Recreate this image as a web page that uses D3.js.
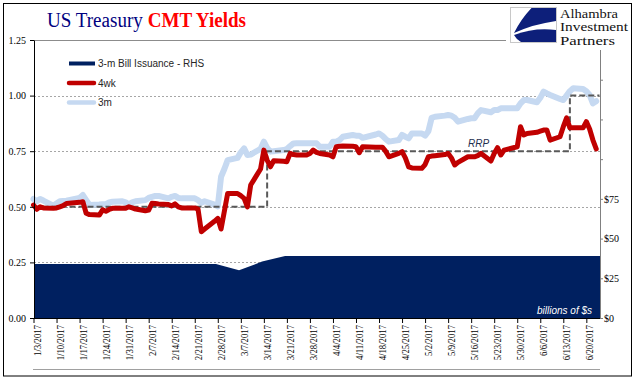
<!DOCTYPE html>
<html><head><meta charset="utf-8">
<script src="https://cdn.jsdelivr.net/npm/d3@7"></script>
<style>body{margin:0;background:#fff}svg{display:block}</style>
</head><body>
<svg id="c" width="641" height="381"></svg>
<script>
// ---------- DATA ----------
const dates = [
 "2017-01-03","2017-01-04","2017-01-05","2017-01-06","2017-01-09","2017-01-10","2017-01-11","2017-01-12","2017-01-13","2017-01-17","2017-01-18","2017-01-19","2017-01-20","2017-01-23","2017-01-24","2017-01-25","2017-01-26","2017-01-27","2017-01-30","2017-01-31",
 "2017-02-01","2017-02-02","2017-02-03","2017-02-06","2017-02-07","2017-02-08","2017-02-09","2017-02-10","2017-02-13","2017-02-14","2017-02-15","2017-02-16","2017-02-17","2017-02-21","2017-02-22","2017-02-23","2017-02-24","2017-02-27","2017-02-28",
 "2017-03-01","2017-03-02","2017-03-03","2017-03-06","2017-03-07","2017-03-08","2017-03-09","2017-03-10","2017-03-13","2017-03-14","2017-03-15","2017-03-16","2017-03-17","2017-03-20","2017-03-21","2017-03-22","2017-03-23","2017-03-24","2017-03-27","2017-03-28","2017-03-29","2017-03-30","2017-03-31",
 "2017-04-03","2017-04-04","2017-04-05","2017-04-06","2017-04-07","2017-04-10","2017-04-11","2017-04-12","2017-04-13","2017-04-17","2017-04-18","2017-04-19","2017-04-20","2017-04-21","2017-04-24","2017-04-25","2017-04-26","2017-04-27","2017-04-28",
 "2017-05-01","2017-05-02","2017-05-03","2017-05-04","2017-05-05","2017-05-08","2017-05-09","2017-05-10","2017-05-11","2017-05-12","2017-05-15","2017-05-16","2017-05-17","2017-05-18","2017-05-19","2017-05-22","2017-05-23","2017-05-24","2017-05-25","2017-05-26","2017-05-30","2017-05-31",
 "2017-06-01","2017-06-02","2017-06-05","2017-06-06","2017-06-07","2017-06-08","2017-06-09","2017-06-12","2017-06-13","2017-06-14","2017-06-15","2017-06-16","2017-06-19","2017-06-20","2017-06-21","2017-06-22","2017-06-23"
];
const threeMonth = [
 0.535,0.525,0.535,0.528,0.505,0.515,0.525,0.526,0.527,0.540,0.553,0.530,0.508,0.510,0.512,0.512,0.520,0.523,0.525,0.520,
 0.510,0.520,0.525,0.530,0.540,0.545,0.549,0.549,0.538,0.545,0.549,0.540,0.538,0.538,0.530,0.518,0.525,0.510,0.502,
 0.635,0.670,0.710,0.720,0.745,0.763,0.733,0.735,0.760,0.793,0.765,0.748,0.750,0.755,0.760,0.773,0.785,0.786,0.786,0.786,0.786,0.786,0.770,
 0.770,0.793,0.793,0.800,0.815,0.823,0.820,0.820,0.810,0.825,0.830,0.820,0.805,0.793,0.800,0.823,0.815,0.808,0.830,
 0.830,0.820,0.840,0.900,0.905,0.910,0.913,0.910,0.900,0.883,0.895,0.898,0.898,0.920,0.935,0.925,0.935,0.935,0.943,0.943,0.943,0.965,
 0.980,0.980,0.970,0.990,1.018,1.010,1.003,0.985,0.980,1.000,1.020,1.033,1.030,1.020,1.003,0.965,0.975
];
const fourWeek = [
 0.508,0.489,0.500,0.495,0.493,0.495,0.500,0.505,0.515,0.520,0.523,0.471,0.465,0.463,0.486,0.480,0.488,0.493,0.493,0.493,
 0.500,0.495,0.490,0.482,0.485,0.516,0.515,0.513,0.510,0.504,0.513,0.500,0.495,0.495,0.490,0.388,0.400,0.435,0.448,
 0.400,0.480,0.560,0.560,0.550,0.538,0.500,0.598,0.670,0.755,0.710,0.680,0.707,0.705,0.703,0.740,0.735,0.733,0.733,0.740,0.755,0.745,0.740,
 0.733,0.725,0.770,0.772,0.773,0.772,0.770,0.743,0.770,0.768,0.768,0.768,0.750,0.725,0.740,0.748,0.720,0.680,0.675,
 0.673,0.690,0.725,0.728,0.730,0.735,0.740,0.720,0.688,0.700,0.725,0.725,0.725,0.730,0.740,0.706,0.740,0.766,0.733,0.755,0.770,0.860,
 0.823,0.830,0.835,0.840,0.845,0.845,0.800,0.815,0.860,0.900,0.855,0.855,0.855,0.883,0.850,0.800,0.760
];
const issuanceDates = ["2017-01-03","2017-01-09","2017-01-16","2017-01-23","2017-01-30","2017-02-06","2017-02-13","2017-02-20","2017-02-27","2017-03-06","2017-03-13","2017-03-20","2017-03-27","2017-04-03","2017-04-10","2017-04-17","2017-04-24","2017-05-01","2017-05-08","2017-05-15","2017-05-22","2017-05-29","2017-06-05","2017-06-12","2017-06-19","2017-06-24"];
const issuance = [34,34,34,34,34,34,34,34,34,30,35.5,39,39,39,39,39,39,39,39,39,39,39,39,39,39,39];
const rrpDates = ["2017-01-03","2017-03-15","2017-06-15","2017-06-24"];
const rrp = [0.50,0.75,1.00,1.00];
const xTickDates = ["2017-01-03","2017-01-10","2017-01-17","2017-01-24","2017-01-31","2017-02-07","2017-02-14","2017-02-21","2017-02-28","2017-03-07","2017-03-14","2017-03-21","2017-03-28","2017-04-04","2017-04-11","2017-04-18","2017-04-25","2017-05-02","2017-05-09","2017-05-16","2017-05-23","2017-05-30","2017-06-06","2017-06-13","2017-06-20"];
const leftTicks = [0,0.25,0.5,0.75,1.0,1.25];
const rightTicks = [0,25,50,75,100,125,150,175];
const rightTickLabels = ["$0","$25","$50","$75","","","",""];
const legendLabels = ["3-m Bill Issuance - RHS","4wk","3m"];

// ---------- CHART ----------
const parse = d3.timeParse("%Y-%m-%d");
const svg = d3.select("#c");
const x = d3.scaleTime().domain([parse("2017-01-03"), parse("2017-06-24")]).range([33.5, 599.5]);
const y = d3.scaleLinear().domain([0, 1.25]).range([318, 40]);
const y2 = d3.scaleLinear().domain([0, 175]).range([318, 40]);
const serif = "'Liberation Serif','Times New Roman',serif";
const sans = "'Liberation Sans',Arial,sans-serif";

svg.append("rect").attr("width",641).attr("height",381).attr("fill","#fff");

// gridlines
[0.25,0.5,0.75,1.0].forEach(v=>{
  svg.append("line").attr("x1",34).attr("x2",600).attr("y1",Math.round(y(v))+0.5).attr("y2",Math.round(y(v))+0.5)
    .attr("stroke","#a6a6a6").attr("stroke-dasharray","2,2");
});
svg.append("line").attr("x1",34).attr("x2",600).attr("y1",y(1.25)+0.5).attr("y2",y(1.25)+0.5).attr("stroke","#8c8c8c");

// area
const iss = issuanceDates.map((d,i)=>({date:parse(d), v:issuance[i]}));
svg.append("path").datum(iss)
  .attr("d", d3.area().x(d=>x(d.date)+1.5).y0(y2(0)).y1(d=>y2(d.v)))
  .attr("fill","#002060");

const tm = dates.map((d,i)=>({date:parse(d), v:threeMonth[i]}));
const fw = dates.map((d,i)=>({date:parse(d), v:fourWeek[i]}));
const rr = rrpDates.map((d,i)=>({date:parse(d), v:rrp[i]}));
const line = d3.line().x(d=>x(d.date)).y(d=>y(d.v));

svg.append("path").datum(tm).attr("d", line).attr("fill","none")
  .attr("stroke","#c6d9f1").attr("stroke-width",6).attr("stroke-linejoin","round").attr("stroke-linecap","round");
svg.append("path").datum(rr).attr("d", d3.line().curve(d3.curveStepAfter).x(d=>x(d.date)).y(d=>y(d.v)))
  .attr("fill","none").attr("stroke","#595959").attr("stroke-width",2).attr("stroke-dasharray","6,3");
svg.append("path").datum(fw).attr("d", line).attr("fill","none")
  .attr("stroke","#c00000").attr("stroke-width",5).attr("stroke-linejoin","round").attr("stroke-linecap","round");

// axes
const gl = svg.append("g").attr("transform","translate(34,0)")
  .call(d3.axisLeft(y).tickValues(leftTicks).tickFormat(d3.format(".2f")).tickSize(4).tickSizeOuter(0).tickPadding(4));
gl.selectAll("text").attr("font-family",serif).attr("font-size",10).attr("fill","#000");
gl.selectAll("line,path").attr("stroke","#000");

const gr = svg.append("g").attr("transform","translate(600,0)")
  .call(d3.axisRight(y2).tickValues(rightTicks).tickFormat((d,i)=>rightTickLabels[i]).tickSize(3).tickSizeOuter(0).tickPadding(1));
gr.selectAll("text").attr("font-family",serif).attr("font-size",10).attr("fill","#000");
gr.selectAll("line,path").attr("stroke","#808080");

const gb = svg.append("g").attr("transform","translate(0,318)")
  .call(d3.axisBottom(x).tickValues(xTickDates.map(parse)).tickFormat(d3.timeFormat("%-m/%-d/%Y")).tickSize(5).tickSizeOuter(0));
gb.selectAll("line,path").attr("stroke","#000");
gb.selectAll("text").attr("font-family",serif).attr("font-size",10).attr("fill","#000")
  .attr("transform","rotate(-90)").attr("text-anchor","end").attr("x",-7).attr("y",3).attr("dy","0.35em")
  .each(function(){ const w=this.getComputedTextLength(); d3.select(this).attr("textLength",w*0.87).attr("lengthAdjust","spacingAndGlyphs"); });

svg.append("line").attr("x1",33).attr("x2",600).attr("y1",369.5).attr("y2",369.5).attr("stroke","#a0a0a0");

// labels
svg.append("text").attr("x",468).attr("y",147).text("RRP")
  .attr("font-family",sans).attr("font-style","italic").attr("font-size",10).attr("fill","#1f2f50");
svg.append("text").attr("x",592).attr("y",314).attr("text-anchor","end").text("billions of $s")
  .attr("font-family",sans).attr("font-style","italic").attr("font-size",10).attr("fill","#fff");

// legend
const lg = svg.append("g");
lg.append("rect").attr("x",69).attr("y",61.5).attr("width",26).attr("height",4).attr("fill","#002060");
lg.append("line").attr("x1",69).attr("x2",94).attr("y1",83).attr("y2",83).attr("stroke","#c00000").attr("stroke-width",4.5).attr("stroke-linecap","round");
lg.append("line").attr("x1",69).attr("x2",94).attr("y1",102.5).attr("y2",102.5).attr("stroke","#c6d9f1").attr("stroke-width",4.5).attr("stroke-linecap","round");
[63.5,83,102.5].forEach((yy,i)=>{
  lg.append("text").attr("x",98).attr("y",yy).attr("dy","0.35em").text(legendLabels[i])
    .attr("font-family",sans).attr("font-size",10).attr("fill","#262626");
});

// title
const t = svg.append("text").attr("x",47).attr("y",27).attr("font-family",serif).attr("font-size",20)
  .attr("textLength",199).attr("lengthAdjust","spacingAndGlyphs");
t.append("tspan").attr("fill","#000080").text("US Treasury ");
t.append("tspan").attr("fill","#ff0000").attr("font-weight","bold").text("CMT Yields");

// logo
svg.append("rect").attr("x",506).attr("y",4).attr("width",125).attr("height",46).attr("fill","#fff");
svg.append("rect").attr("x",510.5).attr("y",7.5).attr("width",46).attr("height",35).attr("fill","#fff").attr("stroke","#c8c8c8");
svg.append("path").attr("d","M531.5,8 L556,8 L556,21 Q534,24 514,33 Q521,19 531.5,8 Z").attr("fill","#0d1f7a");
svg.append("path").attr("d","M514,35 Q535,27 556,30 L556,42 L521,42 Q516,39 514,35 Z").attr("fill","#0d1f7a");
[["Alhambra",58],["Investment",68],["Partners",55]].forEach((s,i)=>{
  svg.append("text").attr("x",560).attr("y",18+i*13.4).text(s[0])
    .attr("font-family",serif).attr("font-size",12.5).attr("fill","#111")
    .attr("textLength",s[1]).attr("lengthAdjust","spacingAndGlyphs");
});

// frame
svg.append("rect").attr("x",3.5).attr("y",3.5).attr("width",628).attr("height",372.5).attr("fill","none").attr("stroke","#000");
</script>
</body></html>
